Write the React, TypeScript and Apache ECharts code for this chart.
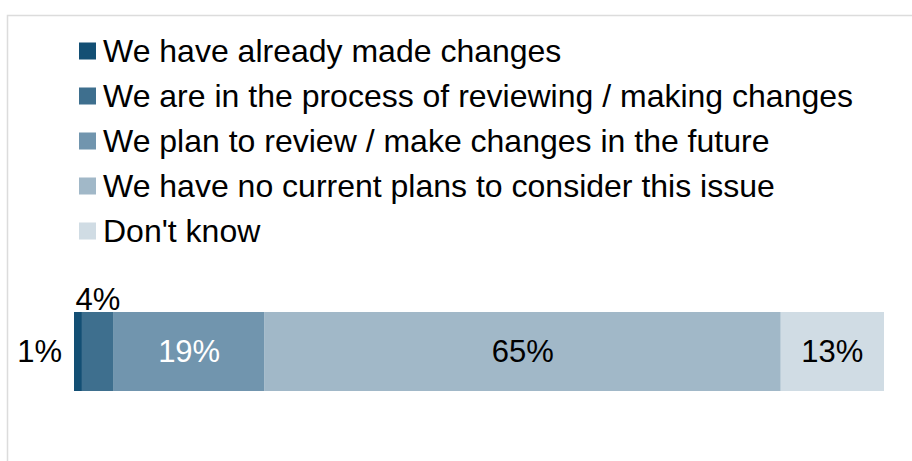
import React, { useEffect, useRef } from "react";
import * as echarts from "echarts";

const categories = ["All"];
const seriesNames = [
  "We have already made changes",
  "We are in the process of reviewing / making changes",
  "We plan to review / make changes in the future",
  "We have no current plans to consider this issue",
  "Don't know",
];
const seriesValues = [1, 4, 19, 65, 13];
const seriesColors = ["#134f74", "#3e6f8e", "#7195ae", "#a1b8c8", "#d0dce4"];
const labelColors = ["#000000", "#000000", "#ffffff", "#000000", "#000000"];
const labelPositions = ["left", "top", "inside", "inside", "inside"];

export default function App() {
  const ref = useRef<HTMLDivElement>(null);
  useEffect(() => {
    if (!ref.current) return;
    const chart = echarts.init(ref.current, null, { renderer: "svg" });
    const total = seriesValues.reduce((a, b) => a + b, 0);
    const font = "'Liberation Sans', Arial, sans-serif";
    chart.setOption({
      animation: false,
      textStyle: { fontFamily: font },
      graphic: [
        {
          type: "rect",
          shape: { x: 7.5, y: 15.5, width: 1200, height: 1200 },
          style: { fill: "none", stroke: "#dcdcdc", lineWidth: 1.5 },
          silent: true,
        },
      ],
      legend: {
        orient: "vertical",
        left: 74,
        top: 30,
        icon: "path://M0,0H17V17H0ZM19,0L19,17L19,0Z",
        itemWidth: 19,
        itemHeight: 17,
        itemGap: 13,
        data: seriesNames,
        textStyle: { fontSize: 32, color: "#000", fontFamily: font, lineHeight: 32 },
      },
      grid: { left: 74, right: 28, top: 312, height: 79 },
      xAxis: { type: "value", min: 0, max: total, show: false },
      yAxis: { type: "category", data: categories, show: false },
      series: seriesNames.map((name, i) => ({
        name,
        type: "bar",
        stack: "total",
        barWidth: "100%",
        data: [seriesValues[i]],
        itemStyle: { color: seriesColors[i] },
        label: {
          show: true,
          position: labelPositions[i],
          distance: i === 0 ? 12 : i === 1 ? -3 : 5,
          formatter: "{c}%",
          color: labelColors[i],
          fontSize: 31,
          fontFamily: font,
        },
      })),
    });
    return () => chart.dispose();
  }, []);
  return (
    <div
      ref={ref}
      style={{ position: "fixed", left: 0, top: 0, width: 912, height: 461, background: "#fff" }}
    />
  );
}
